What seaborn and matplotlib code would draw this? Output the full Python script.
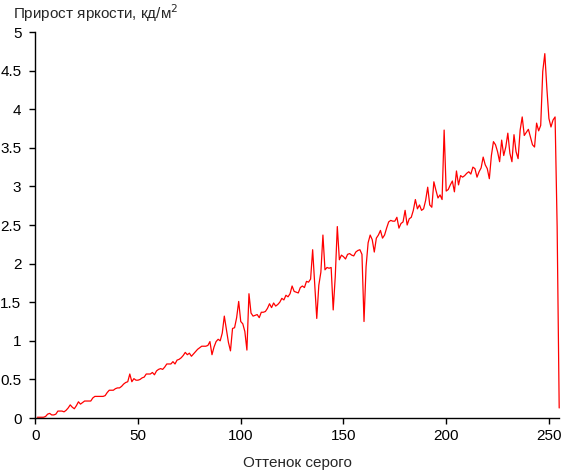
import seaborn as sns
import matplotlib.pyplot as plt
import matplotlib.ticker as mticker
import pandas as pd

# оттенок серого 1..255
gray = list(range(1, 256))

# прирост яркости, кд/м2
delta = [
    0.01, 0.01, 0.01, 0.01, 0.02, 0.05, 0.06, 0.04, 0.04, 0.05,
    0.09, 0.09, 0.09, 0.08, 0.10, 0.13, 0.17, 0.14, 0.12, 0.16,
    0.21, 0.18, 0.20, 0.22, 0.22, 0.22, 0.22, 0.26, 0.28, 0.28,
    0.28, 0.28, 0.28, 0.29, 0.33, 0.36, 0.36, 0.36, 0.38, 0.39,
    0.39, 0.41, 0.44, 0.46, 0.47, 0.57, 0.47, 0.51, 0.49, 0.49,
    0.50, 0.52, 0.53, 0.57, 0.57, 0.57, 0.59, 0.56, 0.61, 0.63,
    0.64, 0.63, 0.66, 0.70, 0.70, 0.70, 0.73, 0.70, 0.75, 0.76,
    0.78, 0.81, 0.85, 0.82, 0.84, 0.80, 0.83, 0.86, 0.89, 0.91,
    0.93, 0.93, 0.93, 0.94, 0.99, 0.82, 0.92, 0.99, 1.02, 1.00,
    1.10, 1.32, 1.15, 0.98, 0.87, 1.16, 1.17, 1.30, 1.51, 1.25,
    1.22, 1.12, 0.88, 1.61, 1.36, 1.32, 1.33, 1.34, 1.30, 1.37,
    1.37, 1.38, 1.42, 1.48, 1.43, 1.49, 1.45, 1.47, 1.50, 1.55,
    1.53, 1.59, 1.57, 1.61, 1.71, 1.64, 1.63, 1.62, 1.69, 1.71,
    1.69, 1.77, 1.76, 1.80, 2.18, 1.74, 1.29, 1.72, 1.89, 2.37,
    1.92, 1.95, 1.94, 1.95, 1.40, 1.83, 2.48, 2.05, 2.11, 2.09,
    2.06, 2.12, 2.13, 2.11, 2.10, 2.15, 2.17, 2.18, 2.12, 1.25,
    1.96, 2.27, 2.37, 2.31, 2.15, 2.33, 2.37, 2.43, 2.33, 2.37,
    2.46, 2.54, 2.56, 2.55, 2.55, 2.60, 2.46, 2.52, 2.54, 2.69,
    2.50, 2.58, 2.60, 2.69, 2.83, 2.71, 2.76, 2.69, 2.71, 2.82,
    2.99, 2.76, 2.73, 3.06, 2.95, 2.85, 2.89, 2.83, 3.73, 2.94,
    2.96, 3.02, 3.07, 2.93, 3.20, 3.02, 3.14, 3.12, 3.14, 3.17,
    3.19, 3.16, 3.25, 3.23, 3.12, 3.19, 3.24, 3.38, 3.28, 3.23,
    3.10, 3.40, 3.58, 3.54, 3.45, 3.32, 3.60, 3.40, 3.51, 3.69,
    3.43, 3.32, 3.67, 3.45, 3.36, 3.73, 3.90, 3.66, 3.70, 3.74,
    3.64, 3.54, 3.51, 3.82, 3.72, 3.79, 4.49, 4.72, 4.27, 3.88,
    3.77, 3.86, 3.90, 2.48, 0.13,
]

x_ticks = [0, 50, 100, 150, 200, 250]
y_ticks = [0, 0.5, 1, 1.5, 2, 2.5, 3, 3.5, 4, 4.5, 5]

df = pd.DataFrame({"gray": gray, "delta": delta})

sns.set_style("ticks")
plt.rcParams["font.family"] = ["Liberation Sans", "DejaVu Sans"]

fig = plt.figure(figsize=(5.62, 4.71), dpi=100)
ax = fig.add_axes([0.0628, 0.1125, 0.9322, 0.8195])

sns.lineplot(data=df, x="gray", y="delta", color="#ff0000", linewidth=0.9,
             ax=ax, clip_on=False)

ax.set_xlim(0, 255)
ax.set_ylim(0, 5)
ax.set_xticks(x_ticks)
ax.set_yticks(y_ticks)
ax.yaxis.set_major_formatter(mticker.FormatStrFormatter("%g"))
ax.tick_params(axis="both", labelsize=11, length=4, width=1, colors="black", pad=4)
ax.tick_params(axis="y", pad=6)
sns.despine(ax=ax)
for side in ("left", "bottom"):
    ax.spines[side].set_color("black")
    ax.spines[side].set_linewidth(1)

ax.set_ylabel("")
ax.set_xlabel("Оттенок серого", fontsize=11, labelpad=9)
fig.text(0.023, 0.972, "Прирост яркости, кд/м$^2$", fontsize=11, va="center", ha="left")

fig.savefig("out.png", dpi=100)
